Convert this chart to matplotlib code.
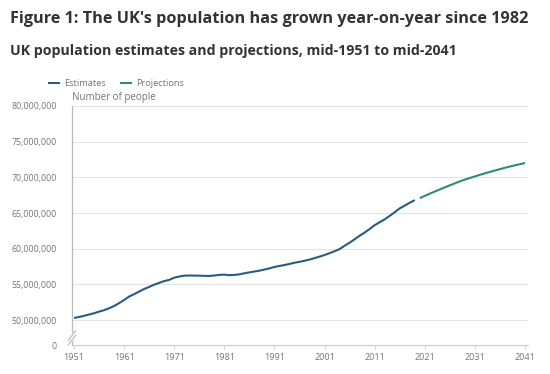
import matplotlib
matplotlib.use("Agg")
import matplotlib.pyplot as plt
from matplotlib.ticker import FuncFormatter

plt.rcParams['font.family'] = ['Open Sans', 'DejaVu Sans']

# mid-year population, millions
est_years = list(range(1951, 2020))
est_pop = [50.29, 50.43, 50.59, 50.77, 50.95, 51.18, 51.38, 51.65, 51.96, 52.37,
           52.81, 53.29, 53.63, 53.99, 54.35, 54.64, 54.96, 55.21, 55.46, 55.63,
           55.93, 56.10, 56.22, 56.24, 56.23, 56.22, 56.19, 56.18, 56.24, 56.33,
           56.36, 56.29, 56.32, 56.41, 56.55, 56.68, 56.80, 56.92, 57.08, 57.24,
           57.44, 57.58, 57.71, 57.86, 58.03, 58.16, 58.31, 58.47, 58.68, 58.89,
           59.11, 59.37, 59.64, 59.95, 60.41, 60.83, 61.32, 61.82, 62.26, 62.76,
           63.29, 63.71, 64.11, 64.60, 65.11, 65.65, 66.04, 66.44, 66.80]
proj_years = list(range(2020, 2042))
proj_pop = [67.09, 67.40, 67.71, 68.01, 68.31, 68.60, 68.88, 69.16, 69.44, 69.68,
            69.91, 70.13, 70.35, 70.56, 70.76, 70.96, 71.15, 71.34, 71.52, 71.69,
            71.85, 72.01]
x_ticks = [1951, 1961, 1971, 1981, 1991, 2001, 2011, 2021, 2031, 2041]
y_ticks = [50, 55, 60, 65, 70, 75, 80]
y_zero_pos = 46.5  # where the broken axis puts "0"

dark_blue = '#2a5b80'
green = '#2e8c76'
grey_txt = '#757575'

fig = plt.figure(figsize=(5.5, 3.74), dpi=100)
ax = fig.add_axes([72/550, 1-345/374, (527.7-72)/550, (345-106)/374])

ax.plot(est_years, est_pop, color=dark_blue, lw=1.5, label='Estimates', solid_capstyle='butt')
ax.plot(proj_years, proj_pop, color=green, lw=1.5, label='Projections', solid_capstyle='butt')

ax.set_xlim(1950.6, 2041.54)
ax.set_ylim(y_zero_pos, 80)
ax.set_xticks(x_ticks)
ax.set_yticks([y_zero_pos] + y_ticks)
ax.yaxis.set_major_formatter(FuncFormatter(
    lambda v, p: '0' if abs(v - y_zero_pos) < 0.01 else '{:,}'.format(int(round(v * 1e6)))))

for v in y_ticks:
    ax.axhline(v, color='#e3e3e3', lw=0.8, zorder=0)

ax.tick_params(axis='y', length=0, labelsize=6.3, labelcolor=grey_txt, pad=11)
ax.tick_params(axis='x', length=3, width=0.6, color='#cccccc', labelsize=6.5,
               labelcolor=grey_txt, pad=3)
for s in ['top', 'right', 'left']:
    ax.spines[s].set_visible(False)
ax.spines['bottom'].set_color('#cccccc')
ax.spines['bottom'].set_linewidth(0.8)

# left axis line with a break near the bottom
kw = dict(transform=ax.transAxes, color='#bbbbbb', lw=0.9, clip_on=False)
ax.plot([0, 0], [1, (345 - 332) / 239], **kw)
ax.plot([0, 0], [(345 - 341) / 239, 0], **kw)
for yb in [335.5, 340]:
    yc = (345 - yb) / 239
    ax.plot([-0.008, 0.008], [yc - 0.02, yc + 0.02], **kw)

ax.text(0, 1.012, 'Number of people', transform=ax.transAxes, fontsize=7,
        color=grey_txt, ha='left', va='bottom')

leg = fig.legend(loc='upper left', bbox_to_anchor=(40/550, 1-71/374), ncol=2,
                 frameon=False, fontsize=6.7, handlelength=1.3, handletextpad=0.4,
                 columnspacing=1.5)
for t in leg.get_texts():
    t.set_color(grey_txt)

fig.text(10/550, 1-19/374, "Figure 1: The UK's population has grown year-on-year since 1982",
         fontsize=11.7, fontweight='bold', color='#333333', va='center', ha='left')
fig.text(10/550, 1-51/374, 'UK population estimates and projections, mid-1951 to mid-2041',
         fontsize=10.2, fontweight='bold', color='#333333', va='center', ha='left')

fig.savefig('out.png', dpi=100)
